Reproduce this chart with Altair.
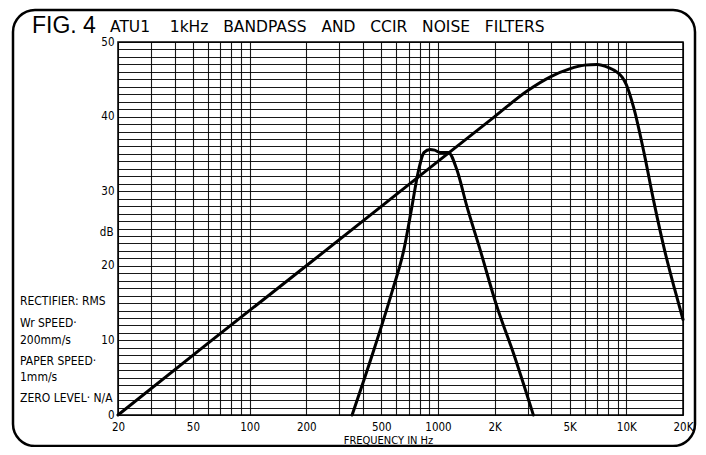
import altair as alt
import pandas as pd

# ---- data ----
ccir_freq = [20, 60, 200, 1000, 2000, 3000, 4000, 5000, 6000, 7000, 8000, 9000,
             9500, 10000, 11000, 12500, 14000, 16000, 18000, 20000]
ccir_db = [0, 9.6, 20.0, 34.0, 40.0, 43.5, 45.4, 46.4, 46.9, 47.0, 46.6, 45.9,
           45.3, 44.3, 41.0, 34.8, 28.6, 22.0, 17.0, 12.8]

bp_freq = [350, 447, 570, 661, 728, 784, 844, 908, 960, 1026, 1135, 1259, 1423,
           1672, 2051, 2514, 3209]
bp_db = [0, 8.0, 16.5, 22.3, 28.0, 32.5, 35.2, 35.6, 35.5, 35.2, 35.2, 32.9, 28.0,
         22.2, 14.6, 8.3, 0]

x_grid = [20, 30, 40, 50, 60, 70, 80, 90,
          100, 200, 300, 400, 500, 600, 700, 800, 900,
          1000, 2000, 3000, 4000, 5000, 6000, 7000, 8000, 9000,
          10000, 20000]
x_label_values = [20, 50, 100, 200, 500, 1000, 2000, 5000, 10000, 20000]
x_label_text = ["20", "50", "100", "200", "500", "1000", "2K", "5K", "10K", "20K"]
y_grid = list(range(0, 51))
y_label_values = [0, 10, 20, 30, 40, 50]

notes = ["RECTIFIER: RMS", "Wr SPEED·", "200mm/s", "PAPER SPEED·", "1mm/s",
         "ZERO LEVEL· N/A"]
fig_label = "FIG. 4"
title_words = ["ATU1", "1kHz", "BANDPASS", "AND", "CCIR", "NOISE", "FILTERS"]
GAP = "\u00a0\u00a0\u00a0"
title_text = "ATU1\u00a0" + GAP + GAP.join(title_words[1:])

COND = "Liberation Sans Narrow, DejaVu Sans Condensed, Liberation Sans, sans-serif"

df = pd.concat([
    pd.DataFrame({"freq": ccir_freq, "db": ccir_db, "filter": "CCIR"}),
    pd.DataFrame({"freq": bp_freq, "db": bp_db, "filter": "1kHz bandpass"}),
])

x_expr = " : ".join(
    f"datum.value == {v} ? '{t}'" for v, t in zip(x_label_values, x_label_text)
) + " : ''"
y_expr = " : ".join(
    f"datum.value == {v} ? '{v}'" for v in y_label_values
) + " : ''"

W, H = 565, 373

lines = alt.Chart(df).mark_line(
    color="black", strokeWidth=3, interpolate="monotone", strokeCap="round"
).encode(
    x=alt.X("freq:Q",
            scale=alt.Scale(type="log", domain=[20, 20000], nice=False),
            axis=alt.Axis(values=x_grid, labelExpr=x_expr, grid=True,
                          gridColor="black", gridOpacity=0.9, gridWidth=1.1,
                          ticks=False, domain=False, labelPadding=6,
                          labelFont=COND, labelFontSize=11.5, labelColor="black",
                          labelFlush=False,
                          title="FREQUENCY IN Hz", titleFont=COND,
                          titleFontSize=11, titleFontWeight="normal",
                          titleColor="black", titleX=270, titleY=25,
                          titleBaseline="middle")),
    y=alt.Y("db:Q",
            scale=alt.Scale(domain=[0, 50], nice=False),
            axis=alt.Axis(values=y_grid, labelExpr=y_expr, grid=True,
                          gridColor="black", gridOpacity=0.9, gridWidth=1.1,
                          ticks=False, domain=False, labelPadding=4,
                          labelFont=COND, labelFontSize=11.5, labelColor="black",
                          labelFlush=False,
                          title="dB", titleAngle=0, titleFont=COND,
                          titleFontSize=11.5, titleFontWeight="normal",
                          titleColor="black", titleX=-5, titleY=190,
                          titleAlign="right", titleBaseline="middle")),
    detail="filter:N",
)

one = pd.DataFrame({"a": [0]})

frame = alt.Chart(one).mark_rect(
    filled=False, stroke="black", strokeWidth=2.5, cornerRadius=22
).encode(x=alt.value(-105), x2=alt.value(577), y=alt.value(-32), y2=alt.value(404))

fig = alt.Chart(one).mark_text(
    text=fig_label, font="Liberation Sans Narrow, Liberation Sans, sans-serif",
    fontSize=23, align="left", baseline="alphabetic", color="black"
).encode(x=alt.value(-86), y=alt.value(-9))

ttl = alt.Chart(one).mark_text(
    text=title_text, font="DejaVu Sans, sans-serif", fontSize=15.5,
    align="left", baseline="alphabetic", color="black"
).encode(x=alt.value(-8), y=alt.value(-10))

note_y = [259, 281, 298, 319, 335, 356]
note_layers = [
    alt.Chart(one).mark_text(
        text=t, font=COND, fontSize=12, align="left", baseline="middle",
        color="black"
    ).encode(x=alt.value(-98), y=alt.value(yy))
    for t, yy in zip(notes, note_y)
]

chart = alt.layer(lines, frame, fig, ttl, *note_layers).properties(
    width=W, height=H,
    autosize=alt.AutoSizeParams(type="none"),
    padding={"left": 110, "top": 34, "right": 15, "bottom": 32},
    background="white",
).configure_view(stroke="black", strokeWidth=1.5)

chart.save("out.html", embed_options={"renderer": "svg", "actions": False})
